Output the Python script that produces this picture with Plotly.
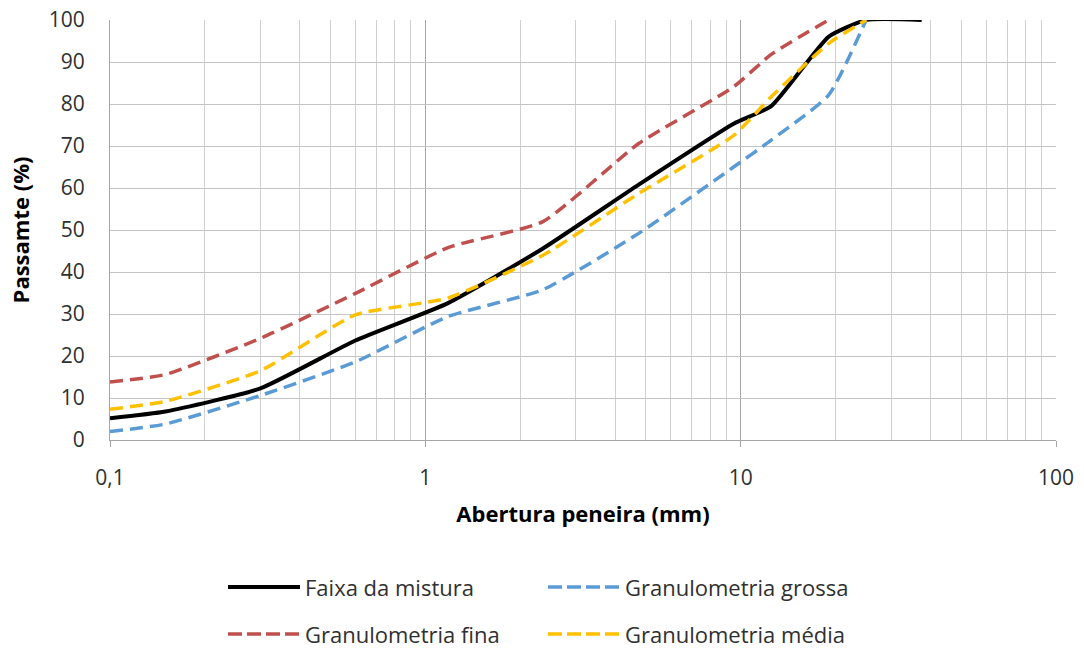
import plotly.graph_objects as go

# Sieve openings (mm) and percent passing for each gradation
sieves = [0.1, 0.15, 0.3, 0.6, 1.18, 2.36, 4.75, 9.5, 12.5, 19, 25, 37.5]
faixa_mistura = [5.2, 6.8, 12.3, 23.7, 32.6, 45.6, 60.8, 75.3, 79.5, 96.0, 100, 100]
gran_grossa = [2.0, 3.8, 10.6, 18.6, 29.4, 35.8, 49.2, 65.0, 71.4, 82.1, 100]
gran_fina = [13.8, 15.6, 24.2, 34.9, 45.8, 52.0, 70.6, 84.1, 91.8, 100]
gran_media = [7.3, 9.2, 16.5, 29.8, 33.8, 44.0, 58.7, 72.5, 81.7, 94.4, 100]

series_names = ["Faixa da mistura", "Granulometria grossa", "Granulometria fina", "Granulometria média"]
series_values = [faixa_mistura, gran_grossa, gran_fina, gran_media]
series_colors = ["#000000", "#5b9bd5", "#c0504d", "#ffc000"]
series_dash = ["solid", "13px,7px", "13px,7px", "13px,7px"]
series_width = [4, 3.5, 3.5, 3.5]

x_major = [0.1, 1, 10, 100]
x_major_text = ["0,1", "1", "10", "100"]
x_minor = [m * d for d in (0.1, 1, 10) for m in range(2, 10)]

W, H = 1084, 650
ML, MR, MT, MB = 110, 28, 20, 210
PW, PH = W - ML - MR, H - MT - MB

FONT = "Open Sans"
TXT = "#303030"

fig = go.Figure()
for name, vals, col, dash, lw in zip(series_names, series_values, series_colors, series_dash, series_width):
    fig.add_trace(go.Scatter(
        x=sieves[:len(vals)], y=vals, name=name, mode="lines",
        line=dict(color=col, width=lw, dash=dash, shape="spline", smoothing=0.5),
        showlegend=False, cliponaxis=True,
    ))

# Legend drawn as a two-column block below the plot
def px_x(px):
    return (px - ML) / PW

def px_y(py):
    return (H - MB - py) / PH

legend_slots = [(228, 587), (548, 587), (228, 634), (548, 634)]
legend_dash = ["solid", "14px,5px", "14px,5px", "14px,5px"]
shapes = []
annotations = []
for (lx, ly), name, col, dash, lw in zip(legend_slots, series_names, series_colors, legend_dash, series_width):
    shapes.append(dict(type="line", xref="paper", yref="paper",
                       x0=px_x(lx), x1=px_x(lx + 72), y0=px_y(ly), y1=px_y(ly),
                       line=dict(color=col, width=lw, dash=dash)))
    annotations.append(dict(xref="paper", yref="paper", x=px_x(lx + 75), y=px_y(ly),
                            xanchor="left", yanchor="middle", showarrow=False,
                            text=name, font=dict(family=FONT, size=22, color=TXT)))

fig.update_layout(
    width=W, height=H,
    margin=dict(l=ML, r=MR, t=MT, b=MB, pad=0, autoexpand=False),
    paper_bgcolor="white", plot_bgcolor="white",
    font=dict(family=FONT, size=20, color=TXT),
    shapes=shapes, annotations=annotations,
    xaxis=dict(
        type="log", range=[-1, 2], automargin=False,
        tickvals=x_major, ticktext=x_major_text,
        ticks="outside", ticklen=6, tickcolor="#a6a6a6",
        ticklabelstandoff=13,
        showgrid=True, gridcolor="#a6a6a6", gridwidth=1,
        minor=dict(tickvals=x_minor, showgrid=True, gridcolor="#d0d0d0", ticks=""),
        showline=True, linecolor="#a6a6a6", linewidth=1,
        zeroline=False,
        tickfont=dict(family=FONT, size=21, color=TXT),
        title=dict(text="<b>Abertura peneira (mm)</b>", standoff=16,
                   font=dict(family=FONT, size=22, color="#000000")),
    ),
    yaxis=dict(
        range=[0, 100], dtick=10, automargin=False,
        ticks="", ticklabelstandoff=20,
        showgrid=True, gridcolor="#c4c4c4", gridwidth=1,
        showline=True, linecolor="#a6a6a6", linewidth=1,
        zeroline=False,
        tickfont=dict(family=FONT, size=21, color=TXT),
        title=dict(text="<b>Passamte (%)</b>", standoff=13,
                   font=dict(family=FONT, size=22, color="#000000")),
    ),
)

fig.write_html("out.html")
